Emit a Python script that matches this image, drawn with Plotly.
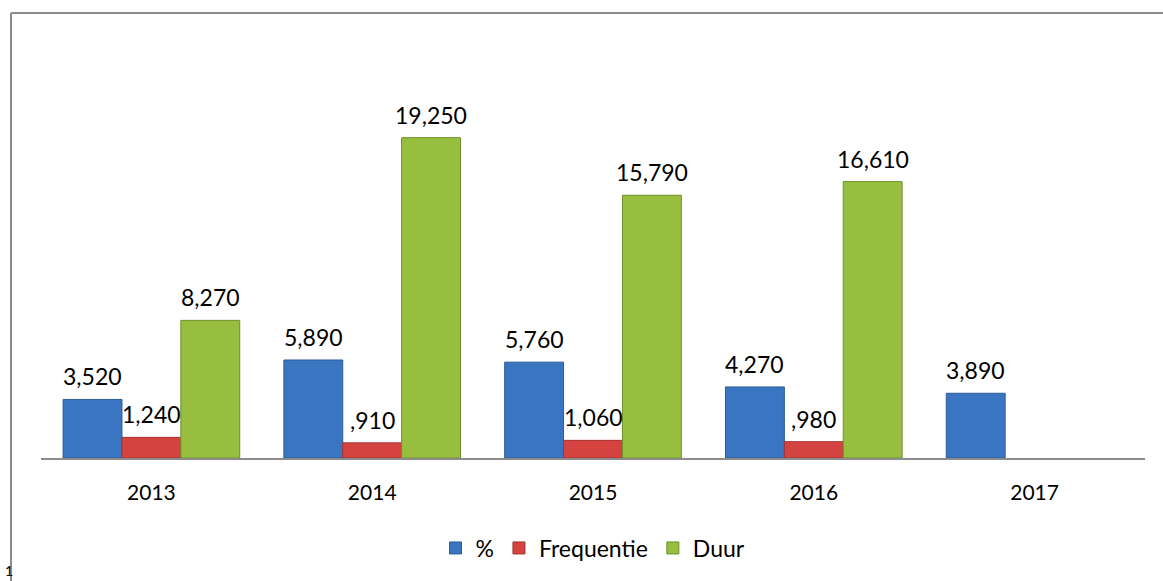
import plotly.graph_objects as go

years = ["2013", "2014", "2015", "2016", "2017"]
pct = [3.52, 5.89, 5.76, 4.27, 3.89]
freq = [1.24, 0.91, 1.06, 0.98, None]
duur = [8.27, 19.25, 15.79, 16.61, None]
series_names = ["%", "Frequentie", "Duur"]
colors = ["#3A75C1", "#D4433F", "#97BE3E"]
edge_colors = ["#2D5C98", "#A33431", "#6F8F2A"]

W, H = 1163, 581
ML, MR, MT, MB = 41, 18, 42, 123
plot_w = W - ML - MR
plot_h = H - MT - MB
bargap = 0.2
cat_px = plot_w / len(years)
bar_px = cat_px * (1 - bargap) / 3

FONT = "Lato, Calibri, Carlito, sans-serif"


def fmt(v):
    s = f"{v:.3f}".replace(".", ",")
    if s.startswith("0,"):
        s = s[1:]
    return s


fig = go.Figure()
annotations = []
for i, (name, vals) in enumerate(zip(series_names, [pct, freq, duur])):
    fig.add_trace(go.Bar(
        x=years, y=vals, name=name,
        marker=dict(color=colors[i], line=dict(color=edge_colors[i], width=1)),
    ))
    for j, v in enumerate(vals):
        if v is None:
            continue
        annotations.append(dict(
            x=j, y=v, xref="x", yref="y", text=fmt(v), showarrow=False,
            xshift=(i - 1) * bar_px, yanchor="bottom", yshift=7,
            font=dict(family=FONT, size=23, color="#000000"),
        ))

annotations.append(dict(
    x=(3 - ML) / plot_w, y=(MT + plot_h - 570) / plot_h, xref="paper", yref="paper",
    xanchor="left", yanchor="middle",
    text="1", showarrow=False, font=dict(family=FONT, size=14, color="#000000"),
))

line_col = "#8C8C8C"
shapes = [
    dict(type="line", xref="paper", yref="paper",
         x0=(11 - ML) / plot_w, x1=(W - ML) / plot_w,
         y0=(MT + plot_h - 13) / plot_h, y1=(MT + plot_h - 13) / plot_h,
         line=dict(color=line_col, width=2)),
    dict(type="line", xref="paper", yref="paper",
         x0=(11 - ML) / plot_w, x1=(11 - ML) / plot_w,
         y0=(MT + plot_h - 13) / plot_h, y1=(MT + plot_h - H) / plot_h,
         line=dict(color=line_col, width=2)),
]

fig.update_layout(
    width=W, height=H,
    margin=dict(l=ML, r=MR, t=MT, b=MB, autoexpand=False),
    barmode="group", bargap=bargap, bargroupgap=0,
    plot_bgcolor="white", paper_bgcolor="white",
    font=dict(family=FONT, color="#000000"),
    xaxis=dict(type="category", range=[-0.5, len(years) - 0.5],
               showline=True, linecolor="#8C8C8C", linewidth=2,
               ticks="", tickfont=dict(family=FONT, size=21, color="#000000"),
               ticklabelstandoff=15, showgrid=False, zeroline=False),
    yaxis=dict(range=[0, 25], visible=False, showgrid=False, zeroline=False),
    legend=dict(orientation="h", x=0.5, xanchor="center",
                y=(MT + plot_h - 548) / plot_h, yanchor="middle",
                font=dict(family=FONT, size=23, color="#000000"),
                itemwidth=30, traceorder="normal"),
    annotations=annotations,
    shapes=shapes,
    showlegend=True,
)

fig.write_html("out.html", config={"displayModeBar": False},
               post_script="document.body.style.margin='0';document.body.style.overflow='hidden';")
